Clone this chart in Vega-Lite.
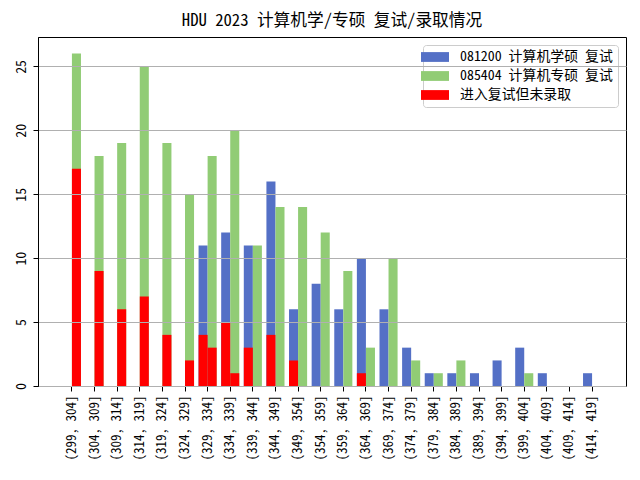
{
  "$schema": "https://vega.github.io/schema/vega-lite/v6.json",
  "width": 588,
  "height": 349,
  "autosize": {"type": "none"},
  "padding": {"left": 38, "top": 37, "right": 14, "bottom": 94},
  "title": {
    "text": "HDU 2023 计算机学/专硕 复试/录取情况",
    "anchor": "middle",
    "frame": "group",
    "fontSize": 16.7,
    "fontWeight": "normal",
    "font": "Noto Sans Mono CJK SC, Noto Sans CJK SC, DejaVu Sans Mono",
    "color": "#000000",
    "offset": 7
  },
  "data": {
    "values": [
      {"bin": "(299, 304]", "major": "081200 计算机学硕 复试", "n": 0, "rej": 0},
      {"bin": "(299, 304]", "major": "085404 计算机专硕 复试", "n": 26, "rej": 17},
      {"bin": "(304, 309]", "major": "081200 计算机学硕 复试", "n": 0, "rej": 0},
      {"bin": "(304, 309]", "major": "085404 计算机专硕 复试", "n": 18, "rej": 9},
      {"bin": "(309, 314]", "major": "081200 计算机学硕 复试", "n": 0, "rej": 0},
      {"bin": "(309, 314]", "major": "085404 计算机专硕 复试", "n": 19, "rej": 6},
      {"bin": "(314, 319]", "major": "081200 计算机学硕 复试", "n": 0, "rej": 0},
      {"bin": "(314, 319]", "major": "085404 计算机专硕 复试", "n": 25, "rej": 7},
      {"bin": "(319, 324]", "major": "081200 计算机学硕 复试", "n": 0, "rej": 0},
      {"bin": "(319, 324]", "major": "085404 计算机专硕 复试", "n": 19, "rej": 4},
      {"bin": "(324, 329]", "major": "081200 计算机学硕 复试", "n": 0, "rej": 0},
      {"bin": "(324, 329]", "major": "085404 计算机专硕 复试", "n": 15, "rej": 2},
      {"bin": "(329, 334]", "major": "081200 计算机学硕 复试", "n": 11, "rej": 4},
      {"bin": "(329, 334]", "major": "085404 计算机专硕 复试", "n": 18, "rej": 3},
      {"bin": "(334, 339]", "major": "081200 计算机学硕 复试", "n": 12, "rej": 5},
      {"bin": "(334, 339]", "major": "085404 计算机专硕 复试", "n": 20, "rej": 1},
      {"bin": "(339, 344]", "major": "081200 计算机学硕 复试", "n": 11, "rej": 3},
      {"bin": "(339, 344]", "major": "085404 计算机专硕 复试", "n": 11, "rej": 0},
      {"bin": "(344, 349]", "major": "081200 计算机学硕 复试", "n": 16, "rej": 4},
      {"bin": "(344, 349]", "major": "085404 计算机专硕 复试", "n": 14, "rej": 0},
      {"bin": "(349, 354]", "major": "081200 计算机学硕 复试", "n": 6, "rej": 2},
      {"bin": "(349, 354]", "major": "085404 计算机专硕 复试", "n": 14, "rej": 0},
      {"bin": "(354, 359]", "major": "081200 计算机学硕 复试", "n": 8, "rej": 0},
      {"bin": "(354, 359]", "major": "085404 计算机专硕 复试", "n": 12, "rej": 0},
      {"bin": "(359, 364]", "major": "081200 计算机学硕 复试", "n": 6, "rej": 0},
      {"bin": "(359, 364]", "major": "085404 计算机专硕 复试", "n": 9, "rej": 0},
      {"bin": "(364, 369]", "major": "081200 计算机学硕 复试", "n": 10, "rej": 1},
      {"bin": "(364, 369]", "major": "085404 计算机专硕 复试", "n": 3, "rej": 0},
      {"bin": "(369, 374]", "major": "081200 计算机学硕 复试", "n": 6, "rej": 0},
      {"bin": "(369, 374]", "major": "085404 计算机专硕 复试", "n": 10, "rej": 0},
      {"bin": "(374, 379]", "major": "081200 计算机学硕 复试", "n": 3, "rej": 0},
      {"bin": "(374, 379]", "major": "085404 计算机专硕 复试", "n": 2, "rej": 0},
      {"bin": "(379, 384]", "major": "081200 计算机学硕 复试", "n": 1, "rej": 0},
      {"bin": "(379, 384]", "major": "085404 计算机专硕 复试", "n": 1, "rej": 0},
      {"bin": "(384, 389]", "major": "081200 计算机学硕 复试", "n": 1, "rej": 0},
      {"bin": "(384, 389]", "major": "085404 计算机专硕 复试", "n": 2, "rej": 0},
      {"bin": "(389, 394]", "major": "081200 计算机学硕 复试", "n": 1, "rej": 0},
      {"bin": "(389, 394]", "major": "085404 计算机专硕 复试", "n": 0, "rej": 0},
      {"bin": "(394, 399]", "major": "081200 计算机学硕 复试", "n": 2, "rej": 0},
      {"bin": "(394, 399]", "major": "085404 计算机专硕 复试", "n": 0, "rej": 0},
      {"bin": "(399, 404]", "major": "081200 计算机学硕 复试", "n": 3, "rej": 0},
      {"bin": "(399, 404]", "major": "085404 计算机专硕 复试", "n": 1, "rej": 0},
      {"bin": "(404, 409]", "major": "081200 计算机学硕 复试", "n": 1, "rej": 0},
      {"bin": "(404, 409]", "major": "085404 计算机专硕 复试", "n": 0, "rej": 0},
      {"bin": "(409, 414]", "major": "081200 计算机学硕 复试", "n": 0, "rej": 0},
      {"bin": "(409, 414]", "major": "085404 计算机专硕 复试", "n": 0, "rej": 0},
      {"bin": "(414, 419]", "major": "081200 计算机学硕 复试", "n": 1, "rej": 0},
      {"bin": "(414, 419]", "major": "085404 计算机专硕 复试", "n": 0, "rej": 0}
    ]
  },
  "encoding": {
    "x": {
      "field": "bin",
      "type": "nominal",
      "sort": null,
      "scale": {"paddingInner": 0, "paddingOuter": 1.08},
      "axis": {
        "title": null,
        "grid": false,
        "labelAngle": 270,
        "labelAlign": "right",
        "labelBaseline": "middle",
        "labelPadding": 4,
        "labelFontSize": 13,
        "tickSize": 5
      }
    },
    "xOffset": {
      "field": "major",
      "type": "nominal",
      "scale": {"paddingInner": 0, "paddingOuter": 0.25}
    }
  },
  "layer": [
    {
      "mark": {"type": "bar"},
      "encoding": {
        "y": {
          "field": "n",
          "type": "quantitative",
          "scale": {"domain": [0, 27.3], "nice": false},
          "axis": {
            "title": null,
            "values": [0, 5, 10, 15, 20, 25],
            "grid": true,
            "gridColor": "#b0b0b0",
            "gridWidth": 1,
            "labelAngle": 270,
            "labelAlign": "center",
            "labelBaseline": "bottom",
            "labelPadding": 5,
            "tickSize": 5,
            "zindex": 1
          }
        },
        "color": {
          "field": "major",
          "type": "nominal",
          "scale": {
            "domain": ["081200 计算机学硕 复试", "085404 计算机专硕 复试", "进入复试但未录取"],
            "range": ["#5470c6", "#91cc75", "#ff0000"]
          },
          "legend": {
            "title": null,
            "orient": "top-right",
            "offset": 8,
            "padding": 5,
            "fillColor": "#ffffff",
            "strokeColor": "#cccccc",
            "cornerRadius": 3,
            "symbolType": "M-2,-0.7H2V0.7H-2Z",
            "symbolSize": 196,
            "symbolStrokeWidth": 0,
            "symbolOpacity": 1,
            "labelOffset": 18,
            "rowPadding": 5,
            "labelFontSize": 13.9,
            "labelColor": "#000000",
            "labelLimit": 300
          }
        }
      }
    },
    {
      "mark": {"type": "bar", "color": "#ff0000"},
      "encoding": {
        "y": {"field": "rej", "type": "quantitative"},
        "color": {"datum": "进入复试但未录取"}
      }
    }
  ],
  "config": {
    "font": "Noto Sans Mono CJK SC, Noto Sans CJK SC, DejaVu Sans Mono",
    "view": {"stroke": "#000000", "strokeWidth": 1},
    "axis": {
      "domainColor": "#000000",
      "tickColor": "#000000",
      "labelColor": "#000000",
      "labelFontSize": 13.9,
      "labelFont": "Noto Sans Mono CJK SC, Noto Sans CJK SC, DejaVu Sans Mono"
    },
    "legend": {
      "labelFont": "Noto Sans Mono CJK SC, Noto Sans CJK SC, DejaVu Sans Mono"
    }
  }
}
